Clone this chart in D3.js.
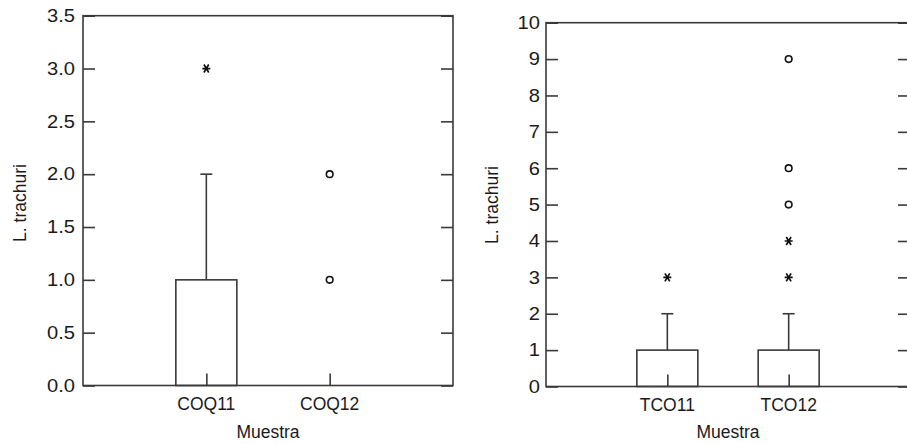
<!DOCTYPE html>
<html><head><meta charset="utf-8">
<script src="https://cdn.jsdelivr.net/npm/d3@7/dist/d3.min.js"></script>
<style>body{margin:0;background:#fff}svg{display:block}text{font-family:"Liberation Sans",Arial,sans-serif;fill:#1a1a1a}</style>
</head><body><svg id="c" width="907" height="444"></svg>
<script>
// Left panel data
const leftCategories = ["COQ11", "COQ12"];
const leftQ1 = [0, 0];
const leftMedian = [0, 0];
const leftQ3 = [1, 0];
const leftWhiskerHigh = [2, 0];
const leftStars = [[0, 3]];            // [categoryIndex, value]
const leftCircles = [[1, 2], [1, 1]];
const leftTicks = ["0.0","0.5","1.0","1.5","2.0","2.5","3.0","3.5"];

// Right panel data
const rightCategories = ["TCO11", "TCO12"];
const rightQ1 = [0, 0];
const rightMedian = [0, 0];
const rightQ3 = [1, 1];
const rightWhiskerHigh = [2, 2];
const rightStars = [[0, 3], [1, 3], [1, 4]];
const rightCircles = [[1, 5], [1, 6], [1, 9]];
const rightTicks = ["0","1","2","3","4","5","6","7","8","9","10"];

const svg = d3.select("#c");
const axisColor = "#3a3a3a";
const fs = 17.5;

function panel(o) {
  const g = svg.append("g");
  const x = d3.scaleLinear().domain([0, 3]).range([o.x0, o.x1]);
  const y = d3.scaleLinear().domain([0, o.ymax]).range([o.y0, o.y1]);
  const tickVals = o.ticks.map(Number);
  const tl = 12;
  g.append("rect").attr("x", o.x0).attr("y", o.y1).attr("width", o.x1 - o.x0).attr("height", o.y0 - o.y1)
    .attr("fill", "none").attr("stroke", axisColor).attr("stroke-width", 1.6);
  const la = d3.axisRight(y).tickValues(tickVals).tickSize(tl).tickFormat("");
  g.append("g").attr("transform", `translate(${o.x0},0)`).call(la)
    .call(s => { s.select(".domain").remove(); s.selectAll("line").attr("stroke", axisColor).attr("stroke-width", 1.6); });
  const ra = d3.axisLeft(y).tickValues(tickVals).tickSize(tl).tickFormat("");
  g.append("g").attr("transform", `translate(${o.x1},0)`).call(ra)
    .call(s => { s.select(".domain").remove(); s.selectAll("line").attr("stroke", axisColor).attr("stroke-width", 1.6); });
  g.selectAll(".yl").data(o.ticks).join("text")
    .attr("transform", d => `translate(${o.x0 - o.labGap},${y(+d)}) scale(1.15,1)`).attr("dy", "0.36em")
    .attr("text-anchor", "end").attr("font-size", fs).text(d => d);
  const cats = o.cats.map((c, i) => i + 1);
  const ba = d3.axisTop(x).tickValues(cats).tickSize(tl).tickFormat("");
  g.append("g").attr("transform", `translate(0,${o.y0})`).call(ba)
    .call(s => { s.select(".domain").remove(); s.selectAll("line").attr("stroke", axisColor).attr("stroke-width", 1.6); });
  g.selectAll(".xl").data(o.cats).join("text")
    .attr("x", (d, i) => x(i + 1)).attr("y", o.y0 + 24.5).attr("text-anchor", "middle").attr("font-size", fs).text(d => d);
  g.append("text").attr("x", (o.x0 + o.x1) / 2).attr("y", 438).attr("text-anchor", "middle").attr("font-size", fs).text("Muestra");
  g.append("text").attr("transform", `translate(${o.tx},${o.ty}) rotate(-90)`).attr("text-anchor", "middle")
    .attr("dy", "0.36em").attr("font-size", fs).text("L. trachuri");
  const bw = 61, cw = 12;
  o.cats.forEach((c, i) => {
    const cx = x(i + 1);
    if (o.q3[i] > o.q1[i]) {
      g.append("rect").attr("x", cx - bw / 2).attr("y", y(o.q3[i])).attr("width", bw).attr("height", y(o.q1[i]) - y(o.q3[i]))
        .attr("fill", "none").attr("stroke", axisColor).attr("stroke-width", 1.6);
    }
    if (o.wh[i] > o.q3[i]) {
      g.append("line").attr("x1", cx).attr("x2", cx).attr("y1", y(o.q3[i])).attr("y2", y(o.wh[i]))
        .attr("stroke", axisColor).attr("stroke-width", 1.6);
      g.append("line").attr("x1", cx - cw / 2).attr("x2", cx + cw / 2).attr("y1", y(o.wh[i])).attr("y2", y(o.wh[i]))
        .attr("stroke", axisColor).attr("stroke-width", 1.6);
    }
  });
  const s = 4;
  const starPath = `M${-s},0L${s},0M${-s*0.6},${-s}L${s*0.6},${s}M${-s*0.6},${s}L${s*0.6},${-s}`;
  g.selectAll(".st").data(o.stars).join("path")
    .attr("transform", d => `translate(${x(d[0] + 1)},${y(d[1])})`).attr("d", starPath)
    .attr("stroke", "#111").attr("stroke-width", 1.7).attr("fill", "none");
  g.selectAll(".ci").data(o.circles).join("circle")
    .attr("cx", d => x(d[0] + 1)).attr("cy", d => y(d[1])).attr("r", 3.3)
    .attr("stroke", "#111").attr("stroke-width", 1.6).attr("fill", "#fff");
}

panel({x0: 83, x1: 453, y0: 385.5, y1: 15.7, ymax: 3.5, ticks: leftTicks, labGap: 8, cats: leftCategories,
  q1: leftQ1, q3: leftQ3, wh: leftWhiskerHigh, stars: leftStars, circles: leftCircles, tx: 20, ty: 203});
panel({x0: 546, x1: 910, y0: 386.5, y1: 22.7, ymax: 10, ticks: rightTicks, labGap: 6, cats: rightCategories,
  q1: rightQ1, q3: rightQ3, wh: rightWhiskerHigh, stars: rightStars, circles: rightCircles, tx: 492, ty: 205});
</script></body></html>
